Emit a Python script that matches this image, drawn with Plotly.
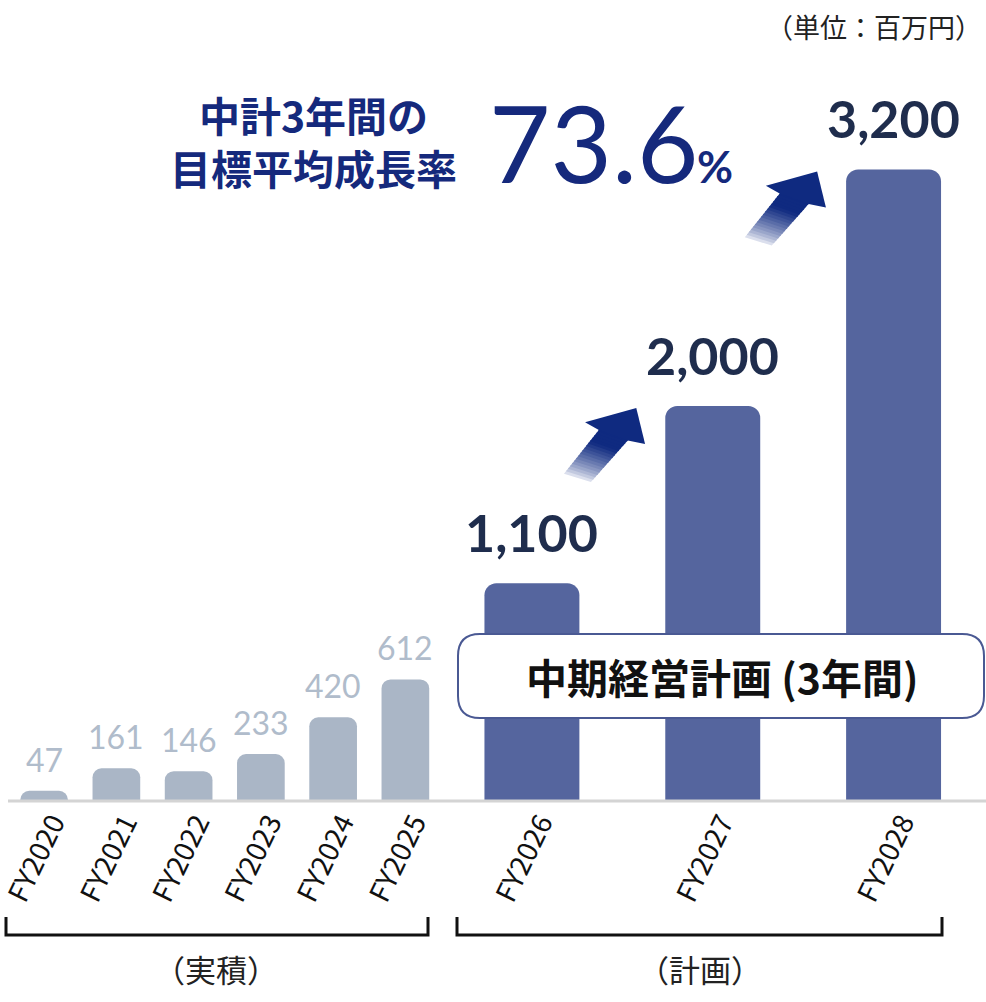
import plotly.graph_objects as go

# ---------------- data ----------------
actual_years = ["FY2020", "FY2021", "FY2022", "FY2023", "FY2024", "FY2025"]
actual_values = [47, 161, 146, 233, 420, 612]
plan_years = ["FY2026", "FY2027", "FY2028"]
plan_values = [1100, 2000, 3200]
plan_labels = ["1,100", "2,000", "3,200"]
unit_text = "（単位：百万円）"
title_text = "中計3年間の<br>目標平均成長率"
rate_text = "73.6"
group_actual = "（実積）"
group_plan = "（計画）"
box_text = "中期経営計画 (3年間)"

W, H = 986, 1002
BASE = 800          # pixel row of the zero line
YMAX = 4060         # top of the value axis
X2 = (441.5, 984)   # pixel span of the plan axis
PLAN_W = 0.525

JP = "Noto Sans CJK JP"
NUM = "Lato"
NAVY = "#15297c"


def px(x):
    return x / W


def py(y):
    return 1 - y / H


def ypix(v):
    return BASE - v * BASE / YMAX


fig = go.Figure()
fig.add_trace(go.Bar(
    x=actual_years, y=actual_values, xaxis="x", yaxis="y", width=0.66,
    marker=dict(color="#aab6c6", cornerradius=9, line=dict(width=0)),
    hoverinfo="skip", showlegend=False))
fig.add_trace(go.Bar(
    x=plan_years, y=plan_values, xaxis="x2", yaxis="y", width=PLAN_W,
    marker=dict(color="#55659e", cornerradius=12, line=dict(width=0)),
    hoverinfo="skip", showlegend=False))

ann = []
for yr, v in zip(actual_years, actual_values):
    ann.append(dict(x=yr, y=v, xref="x", yref="y", text=str(v), showarrow=False,
                    yanchor="bottom", yshift=10,
                    font=dict(family=NUM, size=32, color="#b0bccb")))
for yr, v, lab in zip(plan_years, plan_values, plan_labels):
    ann.append(dict(x=yr, y=v, xref="x2", yref="y", text=lab, showarrow=False,
                    yanchor="bottom", yshift=18,
                    font=dict(family=NUM, size=52, color="#1f2d4d", weight="bold")))

ann += [
    dict(x=px(984), y=py(26), xref="paper", yref="paper", text=unit_text, showarrow=False,
         xanchor="right", yanchor="middle", font=dict(family=JP, size=27, color="#222222")),
    dict(x=px(313), y=py(140), xref="paper", yref="paper", text=title_text, showarrow=False,
         xanchor="center", yanchor="middle", align="center",
         font=dict(family=JP, size=41, color=NAVY, weight="bold")),
    dict(x=px(487), y=py(142), xref="paper", yref="paper", text=rate_text, showarrow=False,
         xanchor="left", yanchor="middle",
         font=dict(family=NUM, size=106, color=NAVY)),
    dict(x=px(695), y=py(166), xref="paper", yref="paper", text="%", showarrow=False,
         xanchor="left", yanchor="middle",
         font=dict(family=NUM, size=44, color=NAVY, weight="bold")),
    dict(x=px(722), y=py(676), xref="paper", yref="paper", text=box_text, showarrow=False,
         xanchor="center", yanchor="middle",
         font=dict(family=JP, size=41, color="#111111", weight="bold")),
    dict(x=px(216), y=py(968), xref="paper", yref="paper", text=group_actual, showarrow=False,
         xanchor="center", yanchor="middle", font=dict(family=JP, size=31, color="#222222")),
    dict(x=px(700), y=py(968), xref="paper", yref="paper", text=group_plan, showarrow=False,
         xanchor="center", yanchor="middle", font=dict(family=JP, size=31, color="#222222")),
]

shapes = []


def path_of(points):
    return "M " + " L ".join(f"{px(x):.5f},{py(y):.5f}" for x, y in points) + " Z"


# baseline
shapes.append(dict(type="line", xref="paper", yref="paper", x0=px(8), x1=1,
                   y0=py(BASE + 1), y1=py(BASE + 1), line=dict(color="#d4d4d4", width=3),
                   layer="above"))

# brackets
for x0, x1 in [(6, 428), (457, 942)]:
    shapes.append(dict(type="path", xref="paper", yref="paper",
                       path=f"M {px(x0)},{py(917)} L {px(x0)},{py(935)} L {px(x1)},{py(935)} L {px(x1)},{py(917)}",
                       line=dict(color="#111111", width=3)))

# rounded box
bx0, by0, bx1, by1, r = 458, 634, 984, 718, 22
box_path = (f"M {px(bx0 + r)},{py(by0)} L {px(bx1 - r)},{py(by0)} "
            f"Q {px(bx1)},{py(by0)} {px(bx1)},{py(by0 + r)} L {px(bx1)},{py(by1 - r)} "
            f"Q {px(bx1)},{py(by1)} {px(bx1 - r)},{py(by1)} L {px(bx0 + r)},{py(by1)} "
            f"Q {px(bx0)},{py(by1)} {px(bx0)},{py(by1 - r)} L {px(bx0)},{py(by0 + r)} "
            f"Q {px(bx0)},{py(by0)} {px(bx0 + r)},{py(by0)} Z")
shapes.append(dict(type="path", xref="paper", yref="paper", path=box_path,
                   fillcolor="white", line=dict(color="#4a5993", width=2), layer="above"))


# gradient arrows (local outline: u along the arrow, v across, origin at the tip)
def lerp_color(c0, c1, t):
    a = [int(c0[i:i + 2], 16) for i in (1, 3, 5)]
    b = [int(c1[i:i + 2], 16) for i in (1, 3, 5)]
    return "#" + "".join(f"{round(a[i] + (b[i] - a[i]) * t):02x}" for i in range(3))


def arrow(tipx, tipy):
    dx, dy = 0.643, -0.765
    nx, ny = -dy, dx

    def P(u, v):
        u -= 33
        return (tipx + u * dx + v * nx, tipy + u * dy + v * ny)

    tail_l, tail_r = (-64, -13), (-53, 13)
    joint_l, joint_r = (-6, -14.5), (4.5, 14.5)
    wing_l, wing_r = (-11, -30), (11, 30)
    n = 18
    for i in range(n):
        s0 = i / n
        s1 = min(1.0, (i + 1) / n + 0.02)
        pts = []
        for s, side in ((s0, 0), (s1, 0), (s1, 1), (s0, 1)):
            a, b = (tail_l, joint_l) if side == 0 else (tail_r, joint_r)
            pts.append(P(a[0] + (b[0] - a[0]) * s, a[1] + (b[1] - a[1]) * s))
        t = min(1.0, (i + 0.5) / n / 0.72)
        col = lerp_color("#eef0f7", "#0f2a80", t ** 0.75)
        shapes.append(dict(type="path", xref="paper", yref="paper", path=path_of(pts),
                           fillcolor=col, line=dict(width=0), layer="above"))
    head = [P(joint_l[0] - 2, joint_l[1]), P(*wing_l), P(0 + 33, 0), P(*wing_r),
            P(joint_r[0] - 2, joint_r[1])]
    shapes.append(dict(type="path", xref="paper", yref="paper", path=path_of(head),
                       fillcolor="#0f2a80", line=dict(width=0), layer="above"))


# arrows sit just left of the tops of the 2,000 and 3,200 bars
step2 = (X2[1] - X2[0]) / len(plan_years)
for i in (1, 2):
    bar_left = X2[0] + (i + 0.5) * step2 - PLAN_W * step2 / 2
    arrow(bar_left - 29, ypix(plan_values[i]) + 2)

ydom0 = py(BASE)
tickfont = dict(family=JP, size=28, color="#111111")
common = dict(anchor="y", tickangle=-64, showgrid=False, showline=False, zeroline=False,
              ticks="", automargin=False, tickfont=tickfont, fixedrange=True,
              ticklabelshift=9)
fig.update_layout(
    width=W, height=H, margin=dict(l=0, r=0, t=0, b=0, pad=0, autoexpand=False),
    paper_bgcolor="white", plot_bgcolor="white",
    xaxis=dict(domain=[px(8), px(X2[0])], range=[-0.5, 5.5], **common),
    xaxis2=dict(domain=[px(X2[0]), px(X2[1])], range=[-0.5, 2.5], **common),
    yaxis=dict(domain=[ydom0, 1], range=[0, YMAX], visible=False, showgrid=False,
               automargin=False, fixedrange=True),
    annotations=ann, shapes=shapes, showlegend=False, hovermode=False,
)

fig.write_html("out.html", config={"displayModeBar": False},
               post_script="document.body.style.margin='0';document.body.style.overflow='hidden';")
